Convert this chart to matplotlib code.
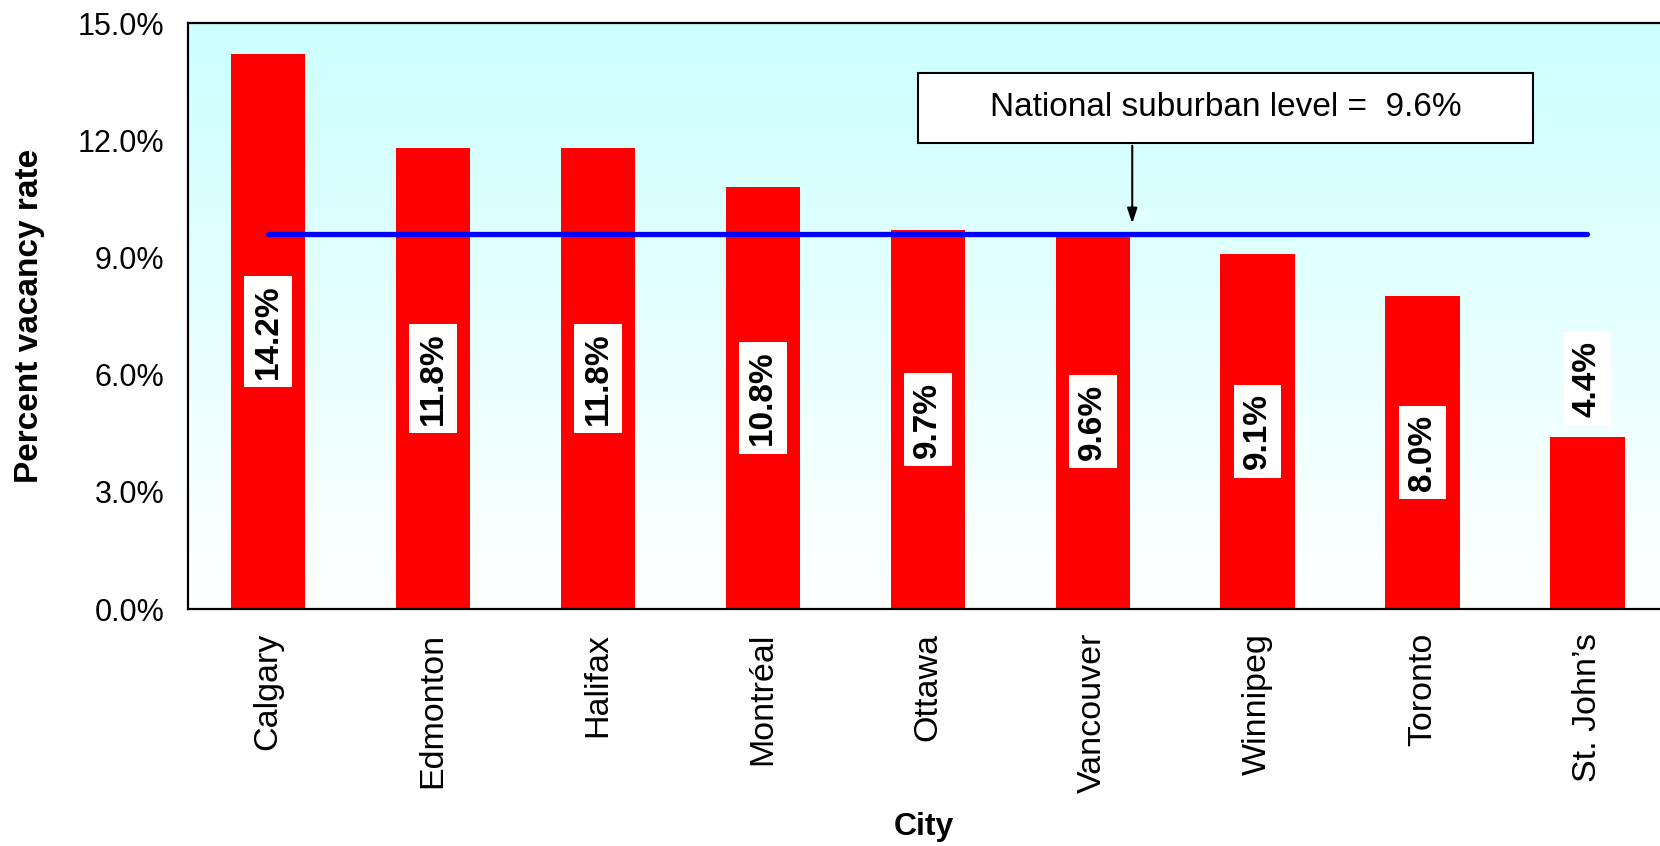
import matplotlib
matplotlib.use('Agg')
import matplotlib.pyplot as plt
import numpy as np
from matplotlib.colors import LinearSegmentedColormap
from matplotlib.patches import Rectangle

plt.rcParams['font.family'] = ['Liberation Sans', 'DejaVu Sans']

cities = ['Calgary', 'Edmonton', 'Halifax', 'Montréal', 'Ottawa',
          'Vancouver', 'Winnipeg', 'Toronto', 'St. John\u2019s']
rates = [14.2, 11.8, 11.8, 10.8, 9.7, 9.6, 9.1, 8.0, 4.4]
national = 9.6
yticks = [0, 3, 6, 9, 12, 15]

fig = plt.figure(figsize=(16.6, 8.46), dpi=100)
ax = fig.add_axes([0.1133, 0.2801, 0.8867, 0.6927])

# background gradient: light cyan at top fading to white
cmap = LinearSegmentedColormap.from_list('bg', ['#ffffff', '#ccffff'])
grad = np.linspace(0, 1, 256).reshape(-1, 1)
ax.imshow(grad, extent=[0, 1, 0, 1], transform=ax.transAxes, cmap=cmap,
          origin='lower', aspect='auto', zorder=0)

x = np.arange(len(cities))
ax.bar(x, rates, width=0.45, color='#ff0000', zorder=2)

# national level line
ax.plot([x[0], x[-1]], [national, national], color='#0000ff', lw=3.8,
        solid_capstyle='round', zorder=3)

# value labels
for i, v in enumerate(rates):
    ypos = v / 2 if v > 6 else v + 1.5
    ax.text(i, ypos, f'{v:.1f}%', rotation=90, ha='center', va='center',
            fontsize=24, fontweight='bold', color='black', zorder=4,
            bbox=dict(boxstyle='square,pad=0.25', facecolor='white', edgecolor='none'))

# annotation box and arrow
ax.add_patch(Rectangle((3.94, 11.93), 3.73, 1.79, facecolor='white',
                       edgecolor='black', lw=1.5, zorder=5))
ax.text(5.805, 12.83, f'National suburban level =  {national:.1f}%', ha='center',
        va='center', fontsize=24, zorder=6)
ax.annotate('', xy=(5.24, 9.8), xytext=(5.24, 11.93),
            arrowprops=dict(arrowstyle='-|>,head_width=0.3,head_length=0.9',
                            color='black', lw=1.5), zorder=6)

ax.set_xlim(-0.485, 8.44)
ax.set_ylim(0, 15)
ax.set_yticks(yticks)
ax.set_yticklabels([f'{t:.1f}%' for t in yticks], fontsize=22)
ax.set_xticks(x)
ax.set_xticklabels(cities, rotation=90, fontsize=24.5)
ax.tick_params(axis='y', length=0, pad=17)
ax.tick_params(axis='x', length=0, pad=17)
for s in ['left', 'bottom', 'top']:
    ax.spines[s].set_linewidth(1.6)
ax.spines['right'].set_visible(False)

ax.set_ylabel('Percent vacancy rate', fontsize=24, fontweight='bold')
ax.set_xlabel('City', fontsize=23, fontweight='bold')
ax.xaxis.set_label_coords(0.5, -0.346)
ax.yaxis.set_label_coords(-0.097, 0.5)

fig.savefig('out.png', dpi=100)
